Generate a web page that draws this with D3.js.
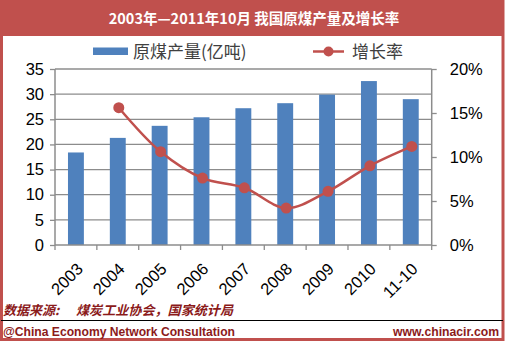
<!DOCTYPE html>
<html><head><meta charset="utf-8">
<script src="https://cdn.jsdelivr.net/npm/d3@7"></script>
<style>
html,body{margin:0;padding:0;background:#fff;}
svg{display:block;}
</style></head>
<body>
<svg id="c" width="506" height="343"></svg>
<script>
const categories = ["2003","2004","2005","2006","2007","2008","2009","2010","11-10"];
const output = [18.4, 21.3, 23.7, 25.4, 27.2, 28.2, 29.9, 32.6, 29.0];
const growth = [null, 15.6, 10.6, 7.6, 6.5, 4.2, 6.1, 9.0, 11.2];
const leftTicks = [0,5,10,15,20,25,30,35];
const rightTicks = [0,5,10,15,20];
const title = "2003年—2011年10月 我国原煤产量及增长率";
const legendBar = "原煤产量(亿吨)";
const legendLine = "增长率";
const sourceLabel = "数据来源:";
const sourceText = "煤炭工业协会，国家统计局";
const footerLeft = "@China Economy Network Consultation";
const footerRight = "www.chinacir.com";

const svg = d3.select("#c");
const red = "#C0504D", blue = "#4F81BD", grid = "#8C8C8C", dark = "#8B1A1A";
const cjk = "'Noto Sans CJK SC', 'Noto Sans', sans-serif";
const lat = "'Liberation Sans', Arial, sans-serif";

// frame
svg.append("rect").attr("x",1.5).attr("y",1).attr("width",501.5).attr("height",338.5)
  .attr("fill","#fff").attr("stroke",red).attr("stroke-width",3);
svg.append("rect").attr("x",0).attr("y",0).attr("width",503).attr("height",36).attr("fill",red);
svg.append("text").attr("x",254).attr("y",24).attr("text-anchor","middle")
  .attr("fill","#fff").attr("font-family",cjk).attr("font-weight","bold").attr("font-size",14.5).text(title);

const L=55, R=431.7, T=69, B=245;
const x = d3.scaleBand().domain(categories).range([L,R]).paddingInner(0.62).paddingOuter(0.31);
const y = d3.scaleLinear().domain([0,35]).range([B,T]);
const y2 = d3.scaleLinear().domain([0,20]).range([B,T]);

// gridlines
svg.append("g").selectAll("line").data(leftTicks.filter(d=>d>0)).join("line")
  .attr("x1",L).attr("x2",R).attr("y1",d=>y(d)).attr("y2",d=>y(d))
  .attr("stroke",grid).attr("stroke-width",1.3);

// bars
svg.append("g").selectAll("rect").data(categories).join("rect")
  .attr("x",d=>x(d)).attr("width",x.bandwidth())
  .attr("y",(d,i)=>y(output[i])).attr("height",(d,i)=>B-y(output[i]))
  .attr("fill",blue);

// axes
const axL = d3.axisLeft(y).tickValues(leftTicks).tickSize(5).tickPadding(6);
const gL = svg.append("g").attr("transform",`translate(${L},0)`).call(axL);
const axR = d3.axisRight(y2).tickValues(rightTicks).tickSize(5).tickPadding(13).tickFormat(d=>d+"%");
const gR = svg.append("g").attr("transform",`translate(${R},0)`).call(axR);
const xb = d3.scaleLinear().domain([0,categories.length]).range([L,R]);
const gB = svg.append("g").attr("transform",`translate(0,${B})`);
gB.append("line").attr("x1",L).attr("x2",R).attr("stroke",grid).attr("stroke-width",1.5);
gB.selectAll("line.t").data(d3.range(categories.length+1)).join("line").attr("class","t")
  .attr("x1",d=>xb(d)).attr("x2",d=>xb(d)).attr("y1",0).attr("y2",5).attr("stroke",grid).attr("stroke-width",1.3);
gB.selectAll("text").data(categories).join("text")
  .attr("transform",d=>`translate(${x(d)+x.bandwidth()/2+8},${25}) rotate(-45)`)
  .attr("text-anchor","end").attr("font-family",lat).attr("font-size",16.5).attr("fill","#000").text(d=>d);
[gL,gR].forEach(g=>{
  g.select(".domain").attr("stroke",grid).attr("stroke-width",1.5);
  g.selectAll(".tick line").attr("stroke",grid).attr("stroke-width",1.3);
  g.selectAll("text").attr("font-family",lat).attr("font-size",16.5).attr("fill","#000");
});
gL.select(".domain").attr("d",`M-0,${T}V${B}`);
gR.select(".domain").attr("d",`M0,${T}V${B}`);

// line
const pts = categories.map((c,i)=>({c, v:growth[i]})).filter(d=>d.v!=null);
const line = d3.line().x(d=>x(d.c)+x.bandwidth()/2+1).y(d=>y2(d.v)).curve(d3.curveCatmullRom.alpha(0.5));
svg.append("path").datum(pts).attr("d",line).attr("fill","none").attr("stroke",red).attr("stroke-width",2.5);
svg.append("g").selectAll("circle").data(pts).join("circle")
  .attr("cx",d=>x(d.c)+x.bandwidth()/2+1).attr("cy",d=>y2(d.v)).attr("r",5.5).attr("fill",red);

// legend
svg.append("rect").attr("x",93).attr("y",47.5).attr("width",35).attr("height",7.5).attr("fill",blue);
svg.append("text").attr("x",133).attr("y",58).attr("font-family",cjk).attr("font-size",17).attr("fill","#404040").text(legendBar);
svg.append("line").attr("x1",313).attr("x2",344).attr("y1",51.5).attr("y2",51.5).attr("stroke",red).attr("stroke-width",2.5);
svg.append("circle").attr("cx",328.5).attr("cy",51.5).attr("r",5).attr("fill",red);
svg.append("text").attr("x",352).attr("y",58).attr("font-family",cjk).attr("font-size",17).attr("fill","#404040").text(legendLine);

// source & footer
svg.append("text").attr("x",3).attr("y",315).attr("font-family",cjk).attr("font-style","italic").attr("font-weight","bold")
  .attr("font-size",13).attr("fill",dark).text(sourceLabel);
svg.append("text").attr("x",76).attr("y",315).attr("font-family",cjk).attr("font-style","italic").attr("font-weight","bold")
  .attr("font-size",13).attr("fill",dark).attr("textLength",157).attr("lengthAdjust","spacingAndGlyphs").text(sourceText);
svg.append("line").attr("x1",1).attr("x2",503).attr("y1",320.5).attr("y2",320.5).attr("stroke","#000").attr("stroke-width",1.2);
svg.append("text").attr("x",3).attr("y",336).attr("font-family",lat).attr("font-weight","bold")
  .attr("font-size",13.5).attr("fill",dark).attr("textLength",232).attr("lengthAdjust","spacingAndGlyphs").text(footerLeft);
svg.append("text").attr("x",499).attr("y",336).attr("text-anchor","end").attr("font-family",lat).attr("font-weight","bold")
  .attr("font-size",12.5).attr("fill",dark).attr("textLength",106).attr("lengthAdjust","spacingAndGlyphs").text(footerRight);
</script>
</body></html>
